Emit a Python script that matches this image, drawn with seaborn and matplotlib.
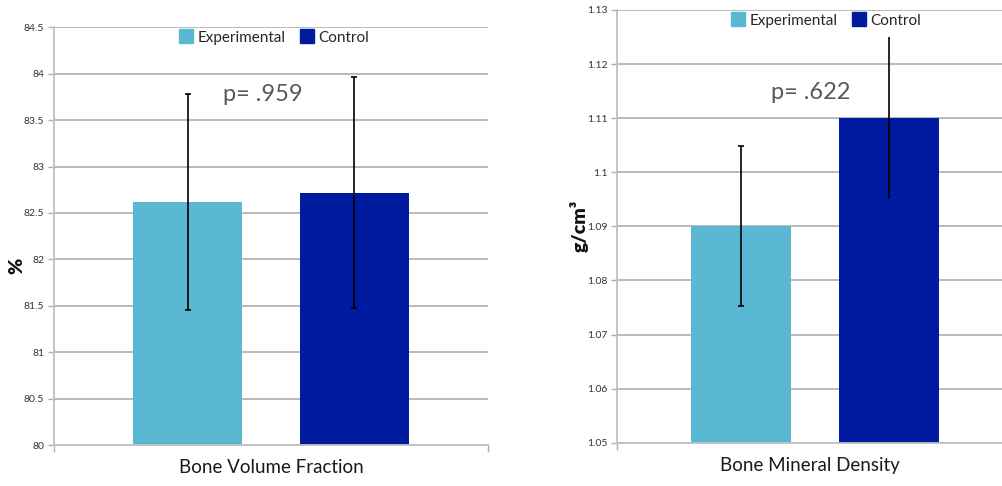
import matplotlib
matplotlib.use("Agg")
import matplotlib.pyplot as plt
from matplotlib.lines import Line2D
from matplotlib.ticker import MultipleLocator, FuncFormatter
import seaborn as sns
import pandas as pd

# data
groups = ["Experimental", "Control"]
colors = ["#5BB8D2", "#001BA0"]

bvf_label = "Bone Volume Fraction"
bvf_mean = [82.62, 82.72]
bvf_err = [1.165, 1.24]
bvf_p = "p= .959"

bmd_label = "Bone Mineral Density"
bmd_mean = [1.090, 1.110]
bmd_err = [0.0148, 0.015]
bmd_p = "p= .622"

sns.set_style("white")
plt.rcParams['font.family'] = ['Lato', 'DejaVu Sans']

fig = plt.figure(figsize=(10.03, 4.86), dpi=100)
ax1 = fig.add_axes([54 / 1003, 41 / 486, 434 / 1003, 417.7 / 486])
ax2 = fig.add_axes([617 / 1003, 43.3 / 486, 386 / 1003, 432.7 / 486])

grid_c = "#b4b4b4"


def panel(ax, label, means, errs, ptxt, ylim, step, ylabel, caps, ptext_xy, leg_x, bw, xlim):
    df = pd.DataFrame({"metric": [label] * 2, "group": groups, "value": means})
    sns.barplot(data=df, x="metric", y="value", hue="group", palette=colors,
                hue_order=groups, width=0.766, gap=1 - bw / 0.383, errorbar=None,
                saturation=1, legend=False, ax=ax, zorder=2, linewidth=0)
    bars = [p for p in ax.patches][:2]
    for b, m, e, c in zip(bars, means, errs, caps):
        xc = b.get_x() + b.get_width() / 2
        ax.errorbar(xc, m, yerr=e, fmt="none", ecolor="black", elinewidth=1.2,
                    capsize=c, capthick=1.2, zorder=3)
    ax.set_ylim(*ylim)
    ax.set_xlim(*xlim)
    ax.yaxis.set_major_locator(MultipleLocator(step))
    ax.yaxis.set_major_formatter(FuncFormatter(lambda v, pos: f"{round(v, 4):g}"))
    ax.grid(axis="y", color=grid_c, lw=1.3, zorder=0)
    ax.set_axisbelow(True)
    for s in ["top", "right"]:
        ax.spines[s].set_visible(False)
    for s in ["left", "bottom"]:
        ax.spines[s].set_color("#c0c0c0")
        ax.spines[s].set_linewidth(1.3)
    ax.tick_params(axis="y", direction="out", length=4, width=1, color="#b0b0b0",
                   labelsize=7.5, labelcolor="#333333", pad=3, left=True)
    ax.set_xticks([sum(xlim) / 2])
    ax.set_xticklabels([label])
    ax.set_xticks(list(xlim), minor=True)
    ax.tick_params(axis="x", which="major", length=0, labelsize=13.5,
                   labelcolor="#1a1a1a", pad=10)
    ax.tick_params(axis="x", which="minor", direction="out", length=5, width=1,
                   color="#b0b0b0", bottom=True)
    ax.set_xlabel("")
    ax.set_ylabel(ylabel, fontsize=14, fontweight="heavy", color="#111111")
    ax.text(*ptext_xy, ptxt, transform=ax.transAxes, ha="center", va="center",
            fontsize=17, color="#595959")
    handles = [Line2D([], [], marker="s", ls="", markersize=9.5, color=c,
                      label=g) for g, c in zip(groups, colors)]
    ax.legend(handles=handles, loc="center", bbox_to_anchor=(leg_x, 0.975), ncol=2,
              frameon=False, fontsize=11, handletextpad=0.25, columnspacing=0.9,
              handlelength=1.0, borderaxespad=0)


panel(ax1, bvf_label, bvf_mean, bvf_err, bvf_p, (80, 84.5), 0.5, "%",
      [2, 2], (0.482, 0.84), 0.507, 0.251, (-0.5, 0.5))
panel(ax2, bmd_label, bmd_mean, bmd_err, bmd_p, (1.05, 1.13), 0.01, "g/cm³",
      [2, 0], (0.502, 0.81), 0.54, 0.258, (-0.513, 0.487))
ax1.yaxis.set_label_coords(-0.067, 0.43)
ax2.yaxis.set_label_coords(-0.074, 0.5)

fig.savefig("out.png", dpi=100)
